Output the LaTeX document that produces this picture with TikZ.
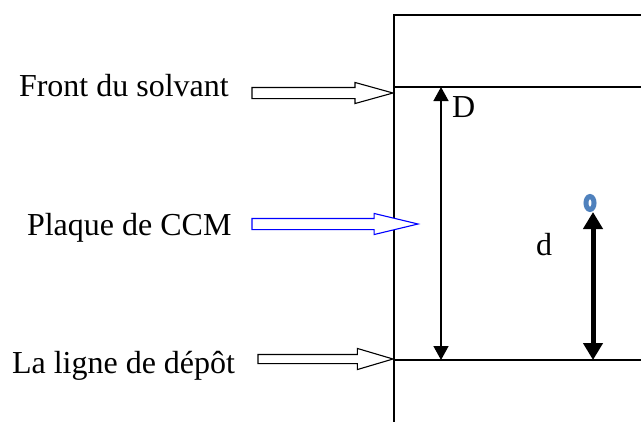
\documentclass[tikz,border=0pt]{standalone}
\usepackage{fontspec}
\setmainfont{Liberation Serif}
\usepackage{tikz}
\usetikzlibrary{positioning,arrows.meta,shapes.arrows,shapes.geometric}
\definecolor{spotblue}{RGB}{79,129,189}

\begin{document}
\begin{tikzpicture}[
    x=0.5pt, y=-0.5pt,
    plateline/.style={line width=0.75pt},
    label/.style={inner sep=0, outer sep=0, font=\fontsize{16}{19}\selectfont},
    hollow/.style={single arrow, draw, line width=0.55pt, fill=white, inner xsep=0, inner ysep=2.5pt, outer sep=0, single arrow head extend=2.5pt, single arrow tip angle=31},
    distarrow/.style={{Triangle[length=7pt, width=7.5pt]}-{Triangle[length=7pt, width=7.5pt]}, line width=0.75pt},
    spotarrow/.style={{Triangle[length=8.5pt, width=9.5pt]}-{Triangle[length=8.5pt, width=9.5pt]}, line width=2.5pt},
    spot/.style={ellipse, draw=spotblue, line width=2.5pt, minimum width=4pt, minimum height=6.5pt, inner sep=0}
]
\useasboundingbox (0,0) rectangle (641,423);

% Plate outline
\coordinate (plateTL) at (394,15);
\coordinate (plateTR) at (641,15);
\coordinate (plateBL) at (394,422);
\coordinate (frontL) at (394,87);
\coordinate (frontR) at (641,87);
\coordinate (depL) at (394,360);
\coordinate (depR) at (641,360);
\draw[plateline] (plateTR) -- (plateTL) -- (plateBL);
\draw[plateline] (frontL) -- (frontR);
\draw[plateline] (depL) -- (depR);

% Block arrows pointing at the plate
\node[hollow, minimum height=70.5pt, anchor=tip] (afront) at (393,93) {};
\node[hollow, draw=blue, minimum height=83pt, single arrow tip angle=27, anchor=tip] (aplate) at (418,224) {};
\node[hollow, minimum height=67.5pt, inner ysep=2pt, single arrow head extend=3pt, single arrow tip angle=33, anchor=tip] (adep) at (393,359) {};

% Labels
\node[label, anchor=base west] (front) at (19,96) {Front du solvant};
\node[label, anchor=base west] (plate) at (27,235) {Plaque de CCM};
\node[label, anchor=base west] (dep) at (12,373) {La ligne de dépôt};

% Distance D
\coordinate (Dtop) at (441,87);
\coordinate (Dbot) at (441,360);
\draw[distarrow] (Dbot) -- (Dtop);
\node[label, anchor=base west] (Dlab) at (452,117) {D};

% Spot and distance d
\node[spot] (spot) at (590,203) {};
\coordinate (dbot) at (593,360);
\draw[spotarrow] (dbot) -- (spot.south -| dbot);
\node[label, anchor=base west] (dlab) at (536,255) {d};

\end{tikzpicture}
\end{document}
